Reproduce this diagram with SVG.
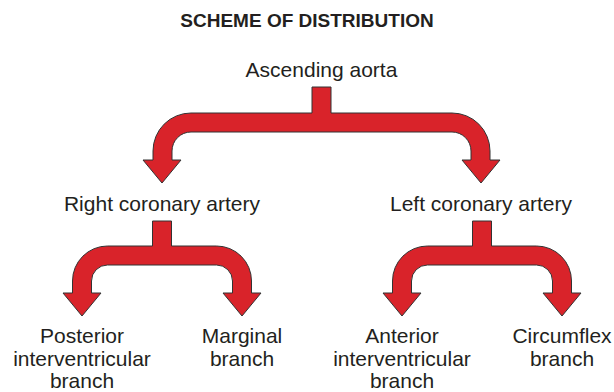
<svg xmlns="http://www.w3.org/2000/svg" xmlns:xlink="http://www.w3.org/1999/xlink" width="614" height="392" viewBox="0 0 614 392">
<style>
  text { font-family: "Liberation Sans", Arial, sans-serif; fill: #231f20; text-anchor: middle; }
  .t { font-size: 19px; font-weight: bold; }
  .n { font-size: 21px; }
  .arrow { fill: #d9232a; stroke: #333; stroke-width: 1; stroke-linejoin: miter; }
</style>
<defs>
  <path id="sub" class="arrow" d="M152.5,221 H171.5 V246 H216.5 A35,35 0 0 1 251.5,281 V293 H261 L242,316 L223,293 H232.5 V281 A16,16 0 0 0 216.5,265 H107.5 A16,16 0 0 0 91.5,281 V293 H101 L82,316 L63,293 H72.5 V281 A35,35 0 0 1 107.5,246 H152.5 Z"/>
</defs>
<rect width="614" height="392" fill="#fff"/>
<g id="title"><text class="t" x="307" y="27">SCHEME OF DISTRIBUTION</text></g>
<g id="connectors">
  <path class="arrow" d="M312,87 H331 V113 H452 A38,38 0 0 1 490,151 V160 H500 L481,183 L462,160 H471 V151 A19,19 0 0 0 452,132 H191 A19,19 0 0 0 172,151 V160 H181 L162,183 L143,160 H153 V151 A38,38 0 0 1 191,113 H312 Z"/>
  <use xlink:href="#sub"/>
  <use xlink:href="#sub" transform="translate(320,0)"/>
</g>
<g id="aorta"><text class="n" x="321.5" y="77">Ascending aorta</text></g>
<g id="rca"><text class="n" x="162" y="211">Right coronary artery</text></g>
<g id="lca"><text class="n" x="481" y="211">Left coronary artery</text></g>
<g id="pib"><text class="n" x="82" y="343">Posterior</text><text class="n" x="82" y="366">interventricular</text><text class="n" x="82" y="388">branch</text></g>
<g id="mb"><text class="n" x="242" y="343">Marginal</text><text class="n" x="242" y="366">branch</text></g>
<g id="aib"><text class="n" x="402" y="343">Anterior</text><text class="n" x="402" y="366">interventricular</text><text class="n" x="402" y="388">branch</text></g>
<g id="cb"><text class="n" x="562" y="343">Circumflex</text><text class="n" x="562" y="366">branch</text></g>
</svg>
